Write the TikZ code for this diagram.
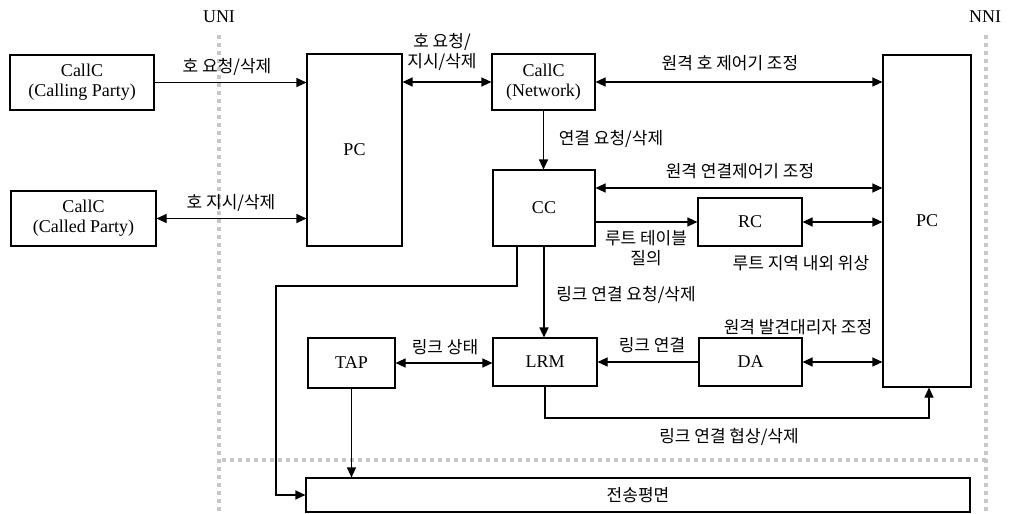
\documentclass[tikz,border=0pt]{standalone}
\usepackage{fontspec}
\setmainfont{Liberation Serif}
\newfontfamily\kr{Noto Sans CJK KR}
\usetikzlibrary{arrows.meta}
\begin{document}
\begin{tikzpicture}[x=1pt,y=-1pt,
  font=\fontsize{18}{20}\selectfont,
  box/.style={draw,line width=1.1pt,inner sep=0pt,align=center},
  con/.style={line width=1.1pt},
  tip/.style={con,-{Triangle[length=10pt,width=9pt]}},
  bi/.style={con,{Triangle[length=10pt,width=9pt]}-{Triangle[length=10pt,width=9pt]}},
  lbl/.style={font=\kr\fontsize{17}{20}\selectfont,inner sep=0pt,align=center},
  ifc/.style={draw=black!22,line width=4pt,dash pattern=on 4pt off 4pt}]
\useasboundingbox (0,0) rectangle (1010,514);
% interface lines
\coordinate (unitop) at (219,35);
\coordinate (unibot) at (219,514);
\coordinate (nnitop) at (986,35);
\coordinate (nnibot) at (986,514);
\coordinate (hl) at (222,460);
\coordinate (hr) at (986,460);
\draw[ifc] (unitop) -- (unibot);
\draw[ifc] (nnitop) -- (nnibot);
\draw[ifc] (hl) -- (hr);
\node (uni) at (219,17) {UNI};
\node (nni) at (985,17) {NNI};
% boxes
\node[box,minimum width=144pt,minimum height=55pt] (cg) at (82,82.5) {CallC\\(Calling Party)};
\node[box,minimum width=145pt,minimum height=55pt] (cd) at (83.5,218.5) {CallC\\(Called Party)};
\node[box,minimum width=95pt,minimum height=192pt] (pcl) at (354.5,150) {PC};
\node[box,minimum width=103pt,minimum height=56pt] (cn) at (543.5,82) {CallC\\(Network)};
\node[box,minimum width=102pt,minimum height=76pt] (cc) at (544,208) {CC};
\node[box,minimum width=104pt,minimum height=48pt] (rc) at (750,222) {RC};
\node[box,minimum width=88pt,minimum height=332pt] (pcr) at (927,221) {PC};
\node[box,minimum width=87pt,minimum height=50pt] (tap) at (351.5,363) {TAP};
\node[box,minimum width=104pt,minimum height=48pt] (lrm) at (545,362) {LRM};
\node[box,minimum width=103pt,minimum height=48pt] (da) at (750.5,362) {DA};
\node[box,minimum width=664pt,minimum height=34pt,font=\kr\fontsize{17}{20}\selectfont] (tp) at (638,495) {전송평면};
% connectors
\draw[tip] (cg) -- (cg -| pcl.west);
\draw[bi] (cd) -- (cd -| pcl.west);
\draw[bi] (cn.west) -- (cn.west -| pcl.east);
\draw[bi] (cn.east) -- (cn.east -| pcr.west);
\draw[tip] (cn.south) -- (cn.south |- cc.north);
\draw[bi] ([yshift=20pt]cc.east) -- ([yshift=20pt]cc.east -| pcr.west);
\draw[tip] (rc.west -| cc.east) -- (rc.west);
\draw[bi] (rc.east) -- (rc.east -| pcr.west);
\draw[tip] (cc.south) -- (cc.south |- lrm.north);
\coordinate (bend) at (276,286);
\draw[tip] ([xshift=-27pt]cc.south) |- (bend) |- (tp.west);
\draw[bi] (tap.east) -- (tap.east -| lrm.west);
\draw[tip] (da.west) -- (da.west -| lrm.east);
\draw[bi] (da.east) -- (da.east -| pcr.west);
\coordinate (bend2) at (929,418);
\draw[tip] (lrm.south) |- (bend2) -- (bend2 |- pcr.south);
\draw[tip] (tap.south) -- (tap.south |- tp.north);
% labels
\node[lbl] (l1) at (227,67) {호 요청/삭제};
\node[lbl] (l2) at (231,203) {호 지시/삭제};
\node[lbl] (l3) at (442,52) {호 요청/\\지시/삭제};
\node[lbl] (l4) at (730,63) {원격 호 제어기 조정};
\node[lbl] (l5) at (611,139) {연결 요청/삭제};
\node[lbl] (l6) at (740,171) {원격 연결제어기 조정};
\node[lbl] (l7) at (646,248) {루트 테이블\\질의};
\node[lbl] (l8) at (801,263) {루트 지역 내외 위상};
\node[lbl] (l9) at (626,295) {링크 연결 요청/삭제};
\node[lbl] (l10) at (445,347) {링크 상태};
\node[lbl] (l11) at (652,345) {링크 연결};
\node[lbl] (l12) at (798,327) {원격 발견대리자 조정};
\node[lbl] (l13) at (729,437) {링크 연결 협상/삭제};
\end{tikzpicture}
\end{document}
